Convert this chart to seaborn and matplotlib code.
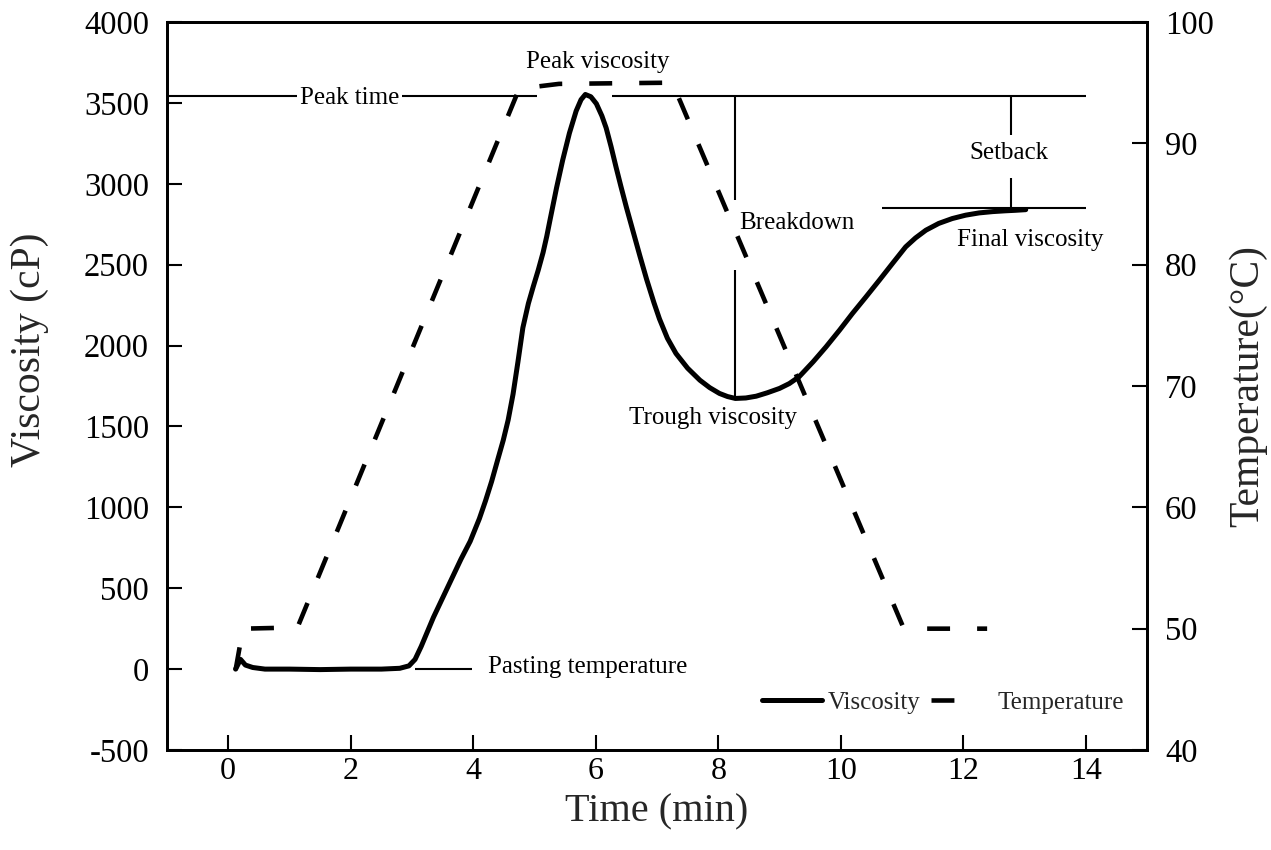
import matplotlib
matplotlib.use("Agg")
import matplotlib.pyplot as plt
from matplotlib.lines import Line2D
import seaborn as sns
import pandas as pd

# ---------------- data ----------------
visc_time = [0.12, 0.20, 0.28, 0.40, 0.60, 1.00, 1.50, 2.00, 2.50, 2.80, 2.95, 3.05,
             3.15, 3.25, 3.35, 3.50, 3.65, 3.80, 3.95, 4.10, 4.20, 4.30, 4.40, 4.49,
             4.57, 4.65, 4.73, 4.81, 4.90, 4.98, 5.06, 5.14, 5.20, 5.25, 5.36, 5.46,
             5.57, 5.68, 5.76, 5.83, 5.92, 6.01, 6.10, 6.17, 6.25, 6.33, 6.41, 6.50,
             6.61, 6.72, 6.83, 6.95, 7.04, 7.17, 7.31, 7.50, 7.70, 7.86, 8.02, 8.15,
             8.28, 8.45, 8.62, 8.80, 9.00, 9.16, 9.32, 9.55, 9.76, 9.98, 10.19, 10.41,
             10.63, 10.85, 11.06, 11.22, 11.39, 11.60, 11.82, 12.04, 12.26, 12.48,
             12.69, 12.85, 13.02]
visc_cp = [0, 60, 25, 10, 0, 0, -3, 0, 0, 5, 20, 60,
           140, 230, 320, 440, 560, 680, 790, 930, 1040, 1160, 1295, 1415,
           1540, 1700, 1900, 2110, 2260, 2365, 2465, 2575, 2675, 2770, 2975, 3146,
           3313, 3450, 3520, 3552, 3538, 3495, 3420, 3345, 3230, 3105, 2985, 2855,
           2705, 2555, 2410, 2265, 2165, 2045, 1951, 1860, 1786, 1740, 1704, 1685,
           1673, 1676, 1687, 1708, 1735, 1765, 1807, 1900, 1992, 2095, 2198, 2300,
           2404, 2510, 2610, 2665, 2713, 2755, 2785, 2806, 2820, 2828, 2833, 2836, 2840]

temp_time = [0.12, 0.24, 1.13, 4.75, 5.40, 7.25, 11.03, 12.39]
temp_c = [46.6, 50.0, 50.1, 94.5, 94.9, 95.0, 50.0, 50.0]

peak_visc = 3545
trough_visc = 1673
trough_time = 8.28
final_visc = 2851
setback_time = 12.78

x_ticks = [0, 2, 4, 6, 8, 10, 12, 14]
y_ticks = [-500, 0, 500, 1000, 1500, 2000, 2500, 3000, 3500, 4000]
t_ticks = [40, 50, 60, 70, 80, 90, 100]

visc_df = pd.DataFrame({"Time": visc_time, "Viscosity": visc_cp})
temp_df = pd.DataFrame({"Time": temp_time, "Temperature": temp_c})

# ---------------- style ----------------
sns.set_theme(style="white")
plt.rcParams["font.family"] = ["Liberation Serif", "DejaVu Serif"]
plt.rcParams["axes.edgecolor"] = "black"
plt.rcParams["axes.linewidth"] = 2.0

W, H = 1271, 850
fig = plt.figure(figsize=(W / 100, H / 100), dpi=100)
ax = fig.add_axes([167 / W, 1 - 750 / H, 980 / W, 728 / H])
ax2 = ax.twinx()

LW_MAIN = 3.6
LW_TEMP = 3.3
LW_THIN = 1.5
TXT = 18
TICK_FS = 23.5
LAB_FS = 30

sns.lineplot(data=visc_df, x="Time", y="Viscosity", ax=ax, color="black",
             linewidth=LW_MAIN, sort=False, estimator=None,
             solid_capstyle="round", solid_joinstyle="round")
sns.lineplot(data=temp_df, x="Time", y="Temperature", ax=ax2, color="black",
             linewidth=LW_TEMP, sort=False, estimator=None)
for ln in ax2.lines:
    ln.set_dashes((5.0, 5.9))

# ---------------- axes ----------------
ax.set_xlim(-1, 15)
ax.set_ylim(-500, 4000)
ax2.set_ylim(40, 100)
ax.set_xticks(x_ticks)
ax.set_yticks(y_ticks)
ax2.set_yticks(t_ticks)
ax.set_xticklabels([str(v) for v in x_ticks])
ax.set_yticklabels([str(v) for v in y_ticks])
ax2.set_yticklabels([str(v) for v in t_ticks])

ax.tick_params(axis="both", direction="in", length=11, width=1.5, colors="black",
               labelsize=TICK_FS, left=True, bottom=True, top=False, right=False)
ax.tick_params(axis="y", pad=13)
ax.tick_params(axis="x", pad=5, labelsize=23)
ax2.tick_params(axis="y", direction="in", length=11, width=1.5, colors="black",
                labelsize=TICK_FS, pad=13, right=True, left=False)
for a in (ax, ax2):
    for s in a.spines.values():
        s.set_visible(True)
        s.set_color("black")
        s.set_linewidth(2.0)

ax.set_xlabel("Time (min)", fontsize=29)
ax.set_ylabel("Viscosity (cP)", fontsize=LAB_FS)
ax2.set_ylabel("Temperature(°C)", fontsize=LAB_FS)
ax.xaxis.set_label_coords(0.5, -0.059)
ax.yaxis.set_label_coords(-0.12, 0.55)
ax2.yaxis.set_label_coords(1.083, 0.5)

# ---------------- annotation guide lines ----------------
kw = dict(color="black", linewidth=LW_THIN)
ax.hlines(peak_visc, -1, 1.12, **kw)
ax.hlines(peak_visc, 2.84, 5.04, **kw)
ax.hlines(peak_visc, 6.26, 14.0, **kw)
ax.vlines(trough_time, 2899, peak_visc, **kw)
ax.vlines(trough_time, trough_visc, 2466, **kw)
ax.vlines(setback_time, 3300, peak_visc, **kw)
ax.vlines(setback_time, final_visc, 3033, **kw)
ax.hlines(final_visc, 10.68, 14.0, **kw)
ax.hlines(0, 3.05, 3.98, **kw)

tk = dict(fontsize=TXT, color="black")
ax.text(6.04, 3752, "Peak viscosity", ha="center", va="center", **tk)
ax.text(1.98, 3530, "Peak time", ha="center", va="center", **tk)
ax.text(8.34, 2757, "Breakdown", ha="left", va="center", **tk)
ax.text(12.75, 3190, "Setback", ha="center", va="center", **tk)
ax.text(13.1, 2655, "Final viscosity", ha="center", va="center", **tk)
ax.text(7.92, 1555, "Trough viscosity", ha="center", va="center", **tk)
ax.text(4.24, 10, "Pasting temperature", ha="left", va="center", **tk)

# ---------------- legend ----------------
handles = [Line2D([], [], color="black", linewidth=LW_MAIN),
           Line2D([], [], color="black", linewidth=LW_TEMP, dashes=(5.0, 30))]
ax2.legend(handles, ["Viscosity", "Temperature"], loc="center left",
           bbox_to_anchor=(0.607, 0.0646), ncol=2, frameon=False,
           fontsize=TXT, handlelength=2.4, handletextpad=0.25,
           columnspacing=0.4, borderpad=0, borderaxespad=0)

fig.savefig("out.png", dpi=100)
